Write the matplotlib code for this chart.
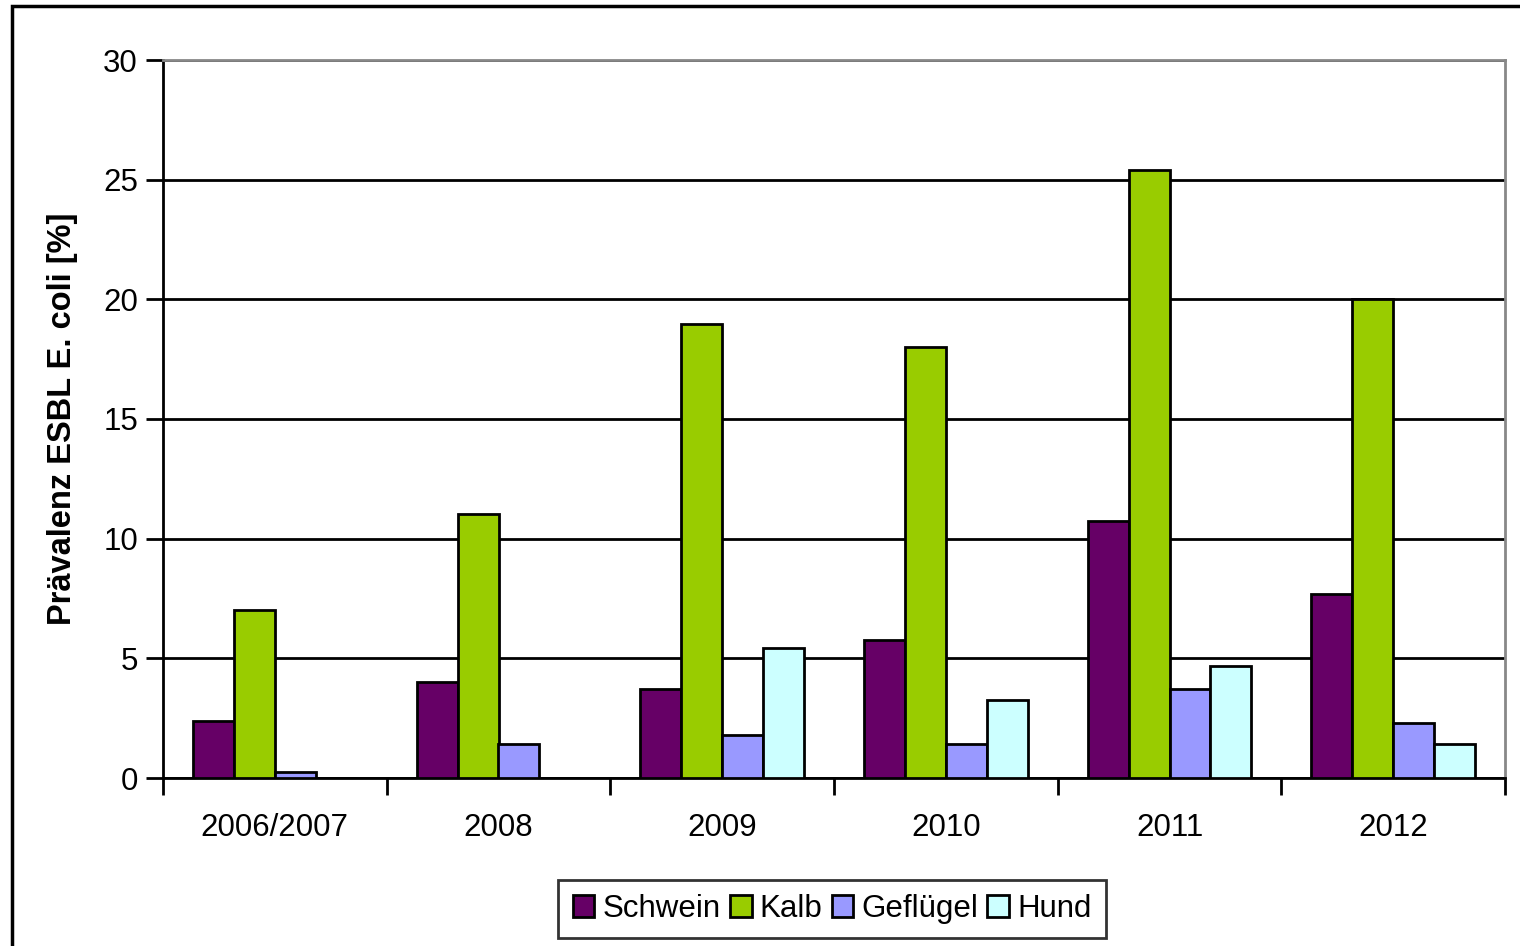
import matplotlib.pyplot as plt
import matplotlib.patches as mpatches
import numpy as np

plt.rcParams['font.family'] = ['Liberation Sans', 'DejaVu Sans']

# Data
years = ['2006/2007', '2008', '2009', '2010', '2011', '2012']
schwein = [2.4, 4.0, 3.7, 5.75, 10.75, 7.7]
kalb = [7.0, 11.05, 18.95, 18.0, 25.4, 20.0]
gefluegel = [0.25, 1.4, 1.8, 1.4, 3.7, 2.3]
hund = [0, 0, 5.45, 3.25, 4.7, 1.4]

series = [('Schwein', schwein, '#660066'),
          ('Kalb', kalb, '#99cc00'),
          ('Geflügel', gefluegel, '#9999ff'),
          ('Hund', hund, '#ccffff')]

fig = plt.figure(figsize=(15.2, 9.46), dpi=100)
ax = fig.add_axes([163/1520, 1 - 778/946, (1505-163)/1520, (778-60)/946])

x = np.arange(len(years))
w = 0.183
for i, (name, vals, col) in enumerate(series):
    ax.bar(x + (i - 1.5) * w, vals, w, color=col, edgecolor='black',
           linewidth=2, label=name, zorder=3)

ax.set_xlim(-0.5, len(years) - 0.5)
ax.set_ylim(0, 30)
ax.set_yticks(range(0, 31, 5))
ax.yaxis.grid(True, color='black', linewidth=2, zorder=0)
ax.set_xticks(x)
ax.set_xticklabels(years, fontsize=22.5)
ax.set_xticks(np.arange(-0.5, len(years)), minor=True)
ax.tick_params(axis='x', which='major', length=0, pad=25)
ax.tick_params(axis='x', which='minor', length=12, width=2)
ax.tick_params(axis='y', labelsize=22.5, length=12, width=2, pad=6)

for s in ['left', 'bottom']:
    ax.spines[s].set_linewidth(2)
for s in ['top', 'right']:
    ax.spines[s].set_color('#888888')
    ax.spines[s].set_linewidth(2)

ax.set_ylabel('Prävalenz ESBL E. coli [%]', fontsize=23.5, fontweight='bold', labelpad=18)

leg = fig.legend(loc='center', bbox_to_anchor=(832/1520, 1 - 909/946), ncol=4,
                 fontsize=22.5, frameon=True, fancybox=False, edgecolor='black',
                 handlelength=0.7, handleheight=0.7, handletextpad=0.25,
                 columnspacing=0.3, borderpad=0.45)
leg.get_frame().set_linewidth(2)

# outer chart frame
fig.patches.append(mpatches.Rectangle((12/1520, -0.01), 1.1, 1 - 6/946 + 0.01,
                                      transform=fig.transFigure, fill=False,
                                      edgecolor='black', linewidth=2.5))

fig.savefig('out.png', dpi=100)
